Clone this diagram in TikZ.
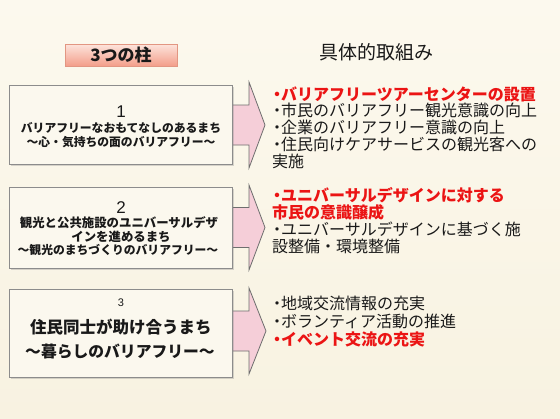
\documentclass[tikz,border=0pt]{standalone}
\usepackage{fontspec}
\setmainfont{Noto Sans CJK JP}
\newfontfamily\latsans{Liberation Sans}
\usetikzlibrary{shadows}
\definecolor{bgtop}{RGB}{252,249,238}
\definecolor{bgbot}{RGB}{248,242,225}
\definecolor{boxfill}{RGB}{251,248,238}
\definecolor{boxline}{RGB}{140,140,140}
\definecolor{arrowfill}{RGB}{245,206,216}
\definecolor{arrowline}{RGB}{110,110,110}
\definecolor{hdtop}{RGB}{253,228,220}
\definecolor{hdbot}{RGB}{243,158,138}
\definecolor{hdline}{RGB}{226,150,130}
\definecolor{ink}{RGB}{25,25,25}
\definecolor{hotred}{RGB}{235,20,20}
\newcommand\mybullet{\makebox[8pt][c]{・}}
\tikzset{
  pillar/.style={draw=boxline, fill=boxfill, line width=0.7pt, minimum width=223pt,
    drop shadow={shadow xshift=1.5pt, shadow yshift=-1.5pt, opacity=0.3}},
  bigarrow/.style={draw=arrowline, fill=arrowfill, line width=0.8pt, line join=miter},
  item/.style={anchor=west, inner sep=0pt, text=ink, font=\fontsize{16}{16}\selectfont},
  hot/.style={anchor=west, inner sep=0pt, text=hotred, font=\fontsize{16}{16}\selectfont\bfseries},
  ltext/.style={inner sep=0pt, text=ink, font=\fontsize{#1}{#1}\selectfont\bfseries},
  digit/.style={inner sep=0pt, text=ink, font=\latsans\fontsize{#1}{#1}\selectfont},
}
\begin{document}
\begin{tikzpicture}[x=1pt,y=-1pt]
\shade[top color=bgtop, bottom color=bgbot] (0,0) rectangle (560,418);
\useasboundingbox (0,0) rectangle (560,418);

% header
\node[draw=hdline, line width=0.6pt, top color=hdtop, bottom color=hdbot,
  minimum width=112pt, minimum height=22pt, inner sep=0pt,
  drop shadow={shadow xshift=1.2pt, shadow yshift=-1.2pt, opacity=0.25},
  text=ink, font=\fontsize{17}{17}\selectfont\bfseries] (hd) at (121,55) {3つの柱};
\node[inner sep=0pt, text=ink, font=\fontsize{19}{19}\selectfont] (hd2) at (376,52) {具体的取組み};

% arrows
\draw[bigarrow] (226,105) -- (249,105) -- (249,82) -- (265,125) -- (249,168) -- (249,145) -- (226,145) -- cycle;
\draw[bigarrow] (226,207.5) -- (249,207.5) -- (249,185) -- (265,227.5) -- (249,270) -- (249,247.5) -- (226,247.5) -- cycle;
\draw[bigarrow] (226,311) -- (249,311) -- (249,288) -- (266,331) -- (249,374) -- (249,351) -- (226,351) -- cycle;

% pillar boxes
\node[pillar, minimum height=79pt] (b1) at (120.5,124.5) {};
\node[pillar, minimum height=81pt] (b2) at (121,227.5) {};
\node[pillar, minimum height=88pt] (b3) at (120.5,333) {};

% box 1 text
\node[digit=17] (b1n) at (121,112) {1};
\node[ltext=11.8] (b1a) at (121,128) {バリアフリーなおもてなしのあるまち};
\node[ltext=11.8] (b1b) at (121,142) {〜心・気持ちの面のバリアフリー〜};
% box 2 text
\node[digit=17] (b2n) at (121,208) {2};
\node[ltext=12.4] (b2a) at (119,223) {観光と公共施設のユニバーサルデザ};
\node[ltext=12.4] (b2b) at (121,237) {インを進めるまち};
\node[ltext=11.8] (b2c) at (118,250) {〜観光のまちづくりのバリアフリー〜};
% box 3 text
\node[digit=11] (b3n) at (121,303) {3};
\node[ltext=16.5] (b3a) at (121,327) {住民同士が助け合うまち};
\node[ltext=15.8] (b3b) at (120,352) {〜暮らしのバリアフリー〜};

% list 1
\node[hot]  (l11) at (273,94)  {\mybullet バリアフリーツアーセンターの設置};
\node[item] (l12) at (273,110.5) {\mybullet 市民のバリアフリー観光意識の向上};
\node[item] (l13) at (273,127) {\mybullet 企業のバリアフリー意識の向上};
\node[item] (l14) at (273,144) {\mybullet 住民向けケアサービスの観光客への};
\node[item] (l15) at (272,161) {実施};
% list 2
\node[hot]  (l21) at (273,195) {\mybullet ユニバーサルデザインに対する};
\node[hot]  (l22) at (272,212) {市民の意識醸成};
\node[item] (l23) at (273,229) {\mybullet ユニバーサルデザインに基づく施};
\node[item] (l24) at (272,246) {設整備・環境整備};
% list 3
\node[item] (l31) at (273,303) {\mybullet 地域交流情報の充実};
\node[item] (l32) at (273,321) {\mybullet ボランティア活動の推進};
\node[hot]  (l33) at (273,339) {\mybullet イベント交流の充実};
\end{tikzpicture}
\end{document}
